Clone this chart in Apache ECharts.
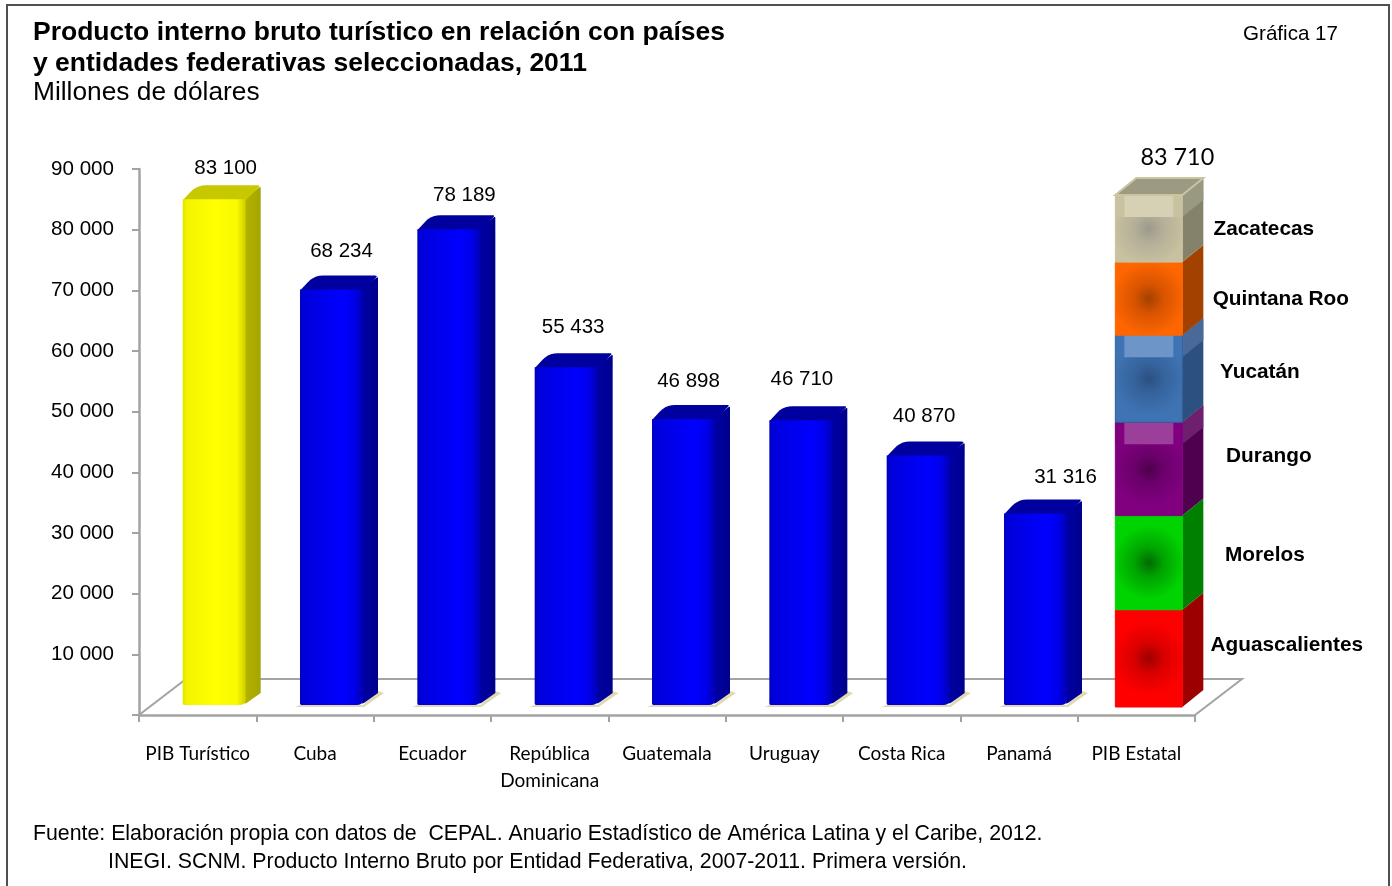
<!DOCTYPE html>
<html>
<head>
<meta charset="utf-8">
<style>
  html, body { margin: 0; padding: 0; background: #fff; }
  #chart { width: 1392px; height: 886px; }
</style>
<script src="https://cdn.jsdelivr.net/npm/echarts@6/dist/echarts.min.js"></script>
</head>
<body>
<div id="chart"></div>
<script>
const categories = ['PIB Turístico', 'Cuba', 'Ecuador', 'República\nDominicana', 'Guatemala', 'Uruguay', 'Costa Rica', 'Panamá', 'PIB Estatal']
const countryValues = [83100, 68234, 78189, 55433, 46898, 46710, 40870, 31316]
const stateNames = ['Aguascalientes', 'Morelos', 'Durango', 'Yucatán', 'Quintana Roo', 'Zacatecas']
const stateValues = [15900, 15400, 15250, 14250, 11950, 10960]
const yTicks = [0, 10000, 20000, 30000, 40000, 50000, 60000, 70000, 80000, 90000]

const ARIAL = '"Liberation Sans", Arial, sans-serif'
const CALIBRI = 'Lato, Carlito, sans-serif'
const GREY = '#a3a3a3'

const fmt = v => String(v).replace(/\B(?=(\d{3})+$)/g, ' ')

// colores de cada segmento de la barra apilada
const stateStyle = [
  { front: '#ff0000', mid: '#d80000', core: '#9c0000', side: '#9c0000', edge: '#ff0000' },
  { front: '#00d400', mid: '#00a400', core: '#006c00', side: '#008000', edge: '#00d400' },
  { front: '#800080', mid: '#6c006c', core: '#4c004c', side: '#4f004f', band: '#9b3f9b', sideBand: '#6e1f6e', edge: '#800080' },
  { front: '#3f74b4', mid: '#35639c', core: '#2c5080', side: '#2c5180', band: '#6d95c8', sideBand: '#48699a', edge: '#2f5c96' },
  { front: '#ff6600', mid: '#d85400', core: '#a54000', side: '#a34100', edge: '#ff6600' },
  { front: '#c9c2a0', mid: '#b4af98', core: '#9c9a8c', side: '#84826a', band: '#d6d0b4', sideBand: '#999880', edge: '#c9c2a0' }
]

// redondea las esquinas de un poligono, r = radio por vertice
function rounded(pts, rs) {
  const out = []
  pts.forEach((p, i) => {
    const r = rs[i]
    if (!r) { out.push(p); return }
    const a = pts[(i + pts.length - 1) % pts.length]
    const b = pts[(i + 1) % pts.length]
    const la = Math.hypot(a[0] - p[0], a[1] - p[1])
    const lb = Math.hypot(b[0] - p[0], b[1] - p[1])
    const s = [p[0] + (a[0] - p[0]) / la * r, p[1] + (a[1] - p[1]) / la * r]
    const e = [p[0] + (b[0] - p[0]) / lb * r, p[1] + (b[1] - p[1]) / lb * r]
    for (let t = 0; t <= 1.001; t += 0.2) {
      const u = 1 - t
      out.push([u * u * s[0] + 2 * u * t * p[0] + t * t * e[0], u * u * s[1] + 2 * u * t * p[1] + t * t * e[1]])
    }
  })
  return out
}

function hGrad(stops) {
  return new echarts.graphic.LinearGradient(0, 0, 1, 0, stops.map(c => ({ offset: c[0], color: c[1] })))
}

const poly = (points, fill, extra) => ({ type: 'polygon', silent: true, shape: { points }, style: Object.assign({ fill }, extra || {}) })
const label = (x, y, text, font, align) => ({
  type: 'text', silent: true,
  style: { x, y, text, font, fill: '#000', textAlign: align || 'center', textVerticalAlign: 'middle' }
})

const blueFaces = {
  front: hGrad([[0, '#0000c4'], [0.08, '#0000dc'], [0.68, '#0000ff'], [0.86, '#0000ea'], [1, '#0000b4']]),
  side: hGrad([[0, '#0000a4'], [0.5, '#00009a'], [1, '#00008c']]),
  top: '#00009e'
}
const yellowFaces = {
  front: hGrad([[0, '#e6e600'], [0.08, '#f4f400'], [0.5, '#ffff00'], [0.86, '#fafa00'], [1, '#cfcf00']]),
  side: hGrad([[0, '#b4b400'], [1, '#a4a400']]),
  top: '#c8c800'
}

// ajuste de cada etiqueta de valor respecto a su barra
const valueLabelShift = [[11.5, -19], [10, -26], [15.5, -21], [7, -27], [5, -25], [1, -28], [6, -27], [30, -24]]

function renderBar(params, api) {
  const i = api.value(0)
  const base = api.coord([i, 0])
  const head = api.coord([i, api.value(1)])
  const lift = 10, w = 63, dx = 15, dy = 14
  const left = base[0] - 15
  const x1 = left + w
  const yLabel = head[1] - lift
  const yTop = yLabel - 1.5
  const yBot = base[1] - lift
  const faces = i === 0 ? yellowFaces : blueFaces
  const children = []
  if (i > 0) {
    children.push(poly([[left - 5, yBot + 2], [x1 + 1, yBot + 2], [x1 + dx + 6, yBot - dy + 2], [x1 + dx, yBot - dy], [x1, yBot], [left, yBot]], '#e2d9b4'))
  }
  children.push(poly(rounded([[x1 - 2, yTop], [x1 + dx, yTop - dy + 1], [x1 + dx, yBot - dy + 2], [x1 - 2, yBot]], [0, 2, 0, 4]), faces.side))
  children.push(poly(rounded([[left, yTop + 1], [left + dx - 1, yTop - dy], [x1 + dx, yTop - dy], [x1, yTop + 1]], [0, 9, 3, 0]), faces.top))
  children.push(poly(rounded([[left, yTop], [x1, yTop], [x1, yBot], [left, yBot]], [0, 0, 6, 2]), faces.front))
  const shift = valueLabelShift[i]
  children.push(label(left + w / 2 + shift[0], yLabel - dy + shift[1], fmt(api.value(1)), '20.5px ' + ARIAL))
  return { type: 'group', children }
}

// etiquetas de los estados respecto al centro del segmento
const stateLabelShift = [[138, -13], [116, -7], [120, -13], [111, -7], [132, 1], [115, 1]]

function renderState(params, api) {
  const i = api.value(0)
  const k = api.value(3)
  const base = api.coord([i, 0])
  const scale = 1.008, lift = 8
  const yOf = v => base[1] - lift - (base[1] - api.coord([i, v])[1]) * scale
  const left = base[0] - 21, w = 67, dx = 21, dy = 17
  const x1 = left + w
  const yBot = yOf(api.value(1))
  const yTop = yOf(api.value(2))
  const h = yBot - yTop
  const st = stateStyle[k]
  const bandH = 22
  const children = []
  children.push(poly([[x1, yTop], [x1 + dx, yTop - dy], [x1 + dx, yBot - dy], [x1, yBot]], st.side))
  if (st.band) {
    children.push(poly([[x1, yTop], [x1 + dx, yTop - dy], [x1 + dx, yTop - dy + bandH], [x1, yTop + bandH]], st.sideBand))
  }
  children.push({
    type: 'rect', silent: true,
    shape: { x: left, y: yTop, width: w, height: h },
    style: {
      fill: new echarts.graphic.RadialGradient(0.5, 0.5, 0.55, [
        { offset: 0, color: st.core },
        { offset: 0.4, color: st.mid },
        { offset: 1, color: st.front }
      ]),
      stroke: st.edge, lineWidth: 1
    }
  })
  if (st.band) {
    children.push({ type: 'rect', silent: true, shape: { x: left, y: yTop, width: w, height: bandH }, style: { fill: st.front } })
    children.push({ type: 'rect', silent: true, shape: { x: left + 9, y: yTop, width: w - 18, height: bandH }, style: { fill: st.band } })
  }
  if (k === stateNames.length - 1) {
    children.push(poly([[left, yTop], [left + dx, yTop - dy], [x1 + dx, yTop - dy], [x1, yTop]], '#9c9a80', { stroke: '#c9c4a2', lineWidth: 2 }))
    children.push(label(left + 62, yTop - dy - 21, fmt(stateValues.reduce((a, b) => a + b, 0)), '23.4px ' + CALIBRI))
  }
  const shift = stateLabelShift[k]
  children.push(label(left + w / 2 + shift[0], (yTop + yBot) / 2 + shift[1], stateNames[k], 'bold 20.8px ' + ARIAL))
  return { type: 'group', children }
}

// piso de la grafica: linea del fondo y las dos diagonales
function renderFloor(params, api) {
  const g = params.coordSys
  const yb = g.y + g.height
  const xr = g.x + g.width
  const dx = 47, dy = 36
  return {
    type: 'polyline', silent: true,
    shape: { points: [[g.x, yb], [g.x + dx, yb - dy], [xr + dx, yb - dy], [xr, yb]] },
    style: { stroke: GREY, lineWidth: 2, fill: null }
  }
}

let cum = 0
const stateRows = stateValues.map((v, k) => {
  const row = [categories.length - 1, cum, cum + v, k]
  cum += v
  return row
})

const myChart = echarts.init(document.getElementById('chart'), null, { renderer: 'canvas' })
myChart.setOption({
  animation: false,
  backgroundColor: '#fff',
  title: [
    {
      text: 'Producto interno bruto turístico en relación con países\ny entidades federativas seleccionadas, 2011',
      left: 33, top: 17, padding: 0,
      textStyle: { fontFamily: ARIAL, fontWeight: 'bold', fontSize: 26.5, lineHeight: 31, color: '#000' }
    },
    {
      text: 'Millones de dólares',
      left: 33, top: 79, padding: 0,
      textStyle: { fontFamily: ARIAL, fontWeight: 'normal', fontSize: 26.3, lineHeight: 28, color: '#000' }
    },
    {
      text: 'Gráfica 17',
      left: 1243, top: 23, padding: 0,
      textStyle: { fontFamily: ARIAL, fontWeight: 'normal', fontSize: 20.6, lineHeight: 22, color: '#000' }
    },
    {
      text: 'Fuente: Elaboración propia con datos de  CEPAL. Anuario Estadístico de América Latina y el Caribe, 2012.',
      left: 33, top: 823, padding: 0,
      textStyle: { fontFamily: ARIAL, fontWeight: 'normal', fontSize: 21.3, lineHeight: 22, color: '#000' }
    },
    {
      text: 'INEGI. SCNM. Producto Interno Bruto por Entidad Federativa, 2007-2011. Primera versión.',
      left: 108, top: 851, padding: 0,
      textStyle: { fontFamily: ARIAL, fontWeight: 'normal', fontSize: 21.3, lineHeight: 22, color: '#000' }
    }
  ],
  graphic: [{
    type: 'rect', silent: true, z: -1,
    shape: { x: 7, y: 5, width: 1382, height: 900 },
    style: { fill: null, stroke: '#505050', lineWidth: 2 }
  }],
  grid: { left: 139, right: 197, top: 169, bottom: 171 },
  xAxis: {
    type: 'category',
    data: categories,
    axisLine: { lineStyle: { color: GREY, width: 2.5 } },
    axisTick: { show: true, length: 7, alignWithLabel: false, lineStyle: { color: GREY, width: 2 } },
    axisLabel: { interval: 0, margin: 25, color: '#000', fontFamily: CALIBRI, fontSize: 19, lineHeight: 27 }
  },
  yAxis: {
    type: 'value',
    min: yTicks[0],
    max: yTicks[yTicks.length - 1],
    interval: yTicks[1] - yTicks[0],
    splitLine: { show: false },
    axisLine: { show: true, lineStyle: { color: GREY, width: 2.5 } },
    axisTick: { show: true, length: 7, lineStyle: { color: GREY, width: 2 } },
    axisLabel: { margin: 25, color: '#000', fontFamily: ARIAL, fontSize: 20.6, padding: [2, 0, 0, 0], formatter: v => (v === 0 ? '' : fmt(v)) }
  },
  series: [
    { type: 'custom', name: 'piso', z: 1, silent: true, renderItem: renderFloor, data: [[0, 0]], encode: { x: 0, y: 1 } },
    {
      type: 'custom', name: 'Países', z: 2, silent: true, renderItem: renderBar,
      data: countryValues.map((v, i) => [i, v]), encode: { x: 0, y: 1 }
    },
    {
      type: 'custom', name: 'Estados', z: 3, silent: true, renderItem: renderState,
      data: stateRows, encode: { x: 0, y: [1, 2] }
    }
  ]
})
</script>
</body>
</html>
